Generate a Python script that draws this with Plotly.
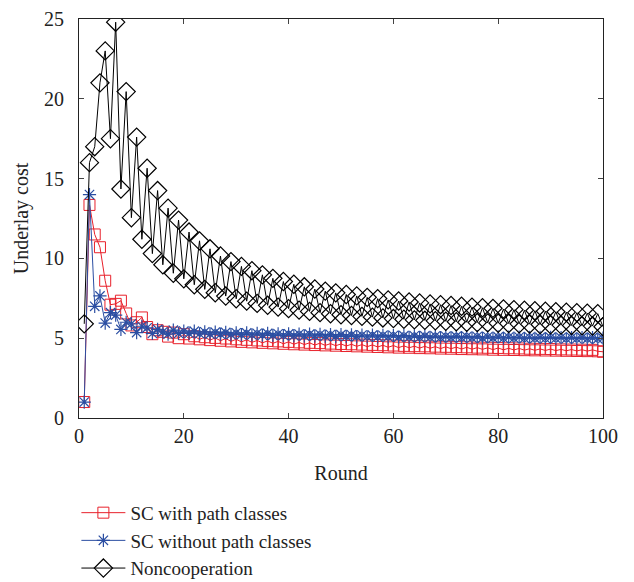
import plotly.graph_objects as go

rounds = list(range(1, 101))

sc_with_path = [
    1.0, 13.35, 11.5, 10.7, 8.6, 7.1, 7.15, 7.35, 6.55, 5.8,
    6.0, 6.3, 5.7, 5.25, 5.5, 5.4, 5.1, 5.35, 5.0, 5.25,
    4.98, 5.12, 4.93, 5.06, 4.88, 5.02, 4.84, 4.98, 4.80, 4.93,
    4.77, 4.90, 4.74, 4.86, 4.71, 4.83, 4.68, 4.80, 4.65, 4.77,
    4.62, 4.74, 4.60, 4.71, 4.57, 4.69, 4.55, 4.66, 4.53, 4.64,
    4.51, 4.62, 4.49, 4.60, 4.47, 4.58, 4.45, 4.56, 4.43, 4.54,
    4.41, 4.52, 4.40, 4.50, 4.38, 4.49, 4.37, 4.47, 4.35, 4.46,
    4.34, 4.44, 4.32, 4.43, 4.31, 4.41, 4.30, 4.40, 4.28, 4.39,
    4.27, 4.37, 4.26, 4.36, 4.25, 4.34, 4.24, 4.33, 4.23, 4.32,
    4.22, 4.30, 4.21, 4.29, 4.20, 4.28, 4.19, 4.27, 4.18, 4.15,
]

sc_without_path = [
    1.0, 14.0, 7.0, 7.65, 5.95, 6.6, 6.45, 5.55, 6.0, 5.9,
    5.35, 5.75, 5.65, 5.3, 5.55, 5.4, 5.25, 5.5, 5.3, 5.45,
    5.30, 5.44, 5.28, 5.40, 5.26, 5.38, 5.25, 5.36, 5.23, 5.34,
    5.22, 5.33, 5.20, 5.31, 5.19, 5.30, 5.18, 5.28, 5.17, 5.27,
    5.16, 5.26, 5.15, 5.25, 5.14, 5.24, 5.13, 5.23, 5.12, 5.22,
    5.11, 5.21, 5.10, 5.20, 5.09, 5.19, 5.08, 5.18, 5.08, 5.17,
    5.07, 5.16, 5.06, 5.15, 5.05, 5.14, 5.05, 5.13, 5.04, 5.12,
    5.03, 5.11, 5.03, 5.10, 5.02, 5.10, 5.01, 5.09, 5.01, 5.08,
    5.00, 5.07, 5.00, 5.07, 4.99, 5.06, 4.99, 5.05, 4.98, 5.05,
    4.98, 5.04, 4.97, 5.04, 4.97, 5.03, 4.96, 5.03, 4.96, 5.00,
]

noncooperation = [
    5.9, 16.0, 17.0, 21.0, 23.0, 17.5, 24.8, 14.35, 20.45, 12.55,
    17.6, 11.2, 15.65, 10.3, 14.25, 9.6, 13.15, 9.07, 12.4, 8.72,
    11.65, 8.35, 11.1, 8.06, 10.6, 7.85, 10.15, 7.64, 9.8, 7.47,
    9.5, 7.32, 9.23, 7.18, 8.97, 7.06, 8.75, 6.95, 8.55, 6.85,
    8.38, 6.76, 8.22, 6.68, 8.08, 6.6, 7.95, 6.53, 7.84, 6.47,
    7.74, 6.42, 7.65, 6.37, 7.56, 6.32, 7.48, 6.27, 7.4, 6.23,
    7.33, 6.19, 7.27, 6.15, 7.21, 6.12, 7.15, 6.09, 7.1, 6.06,
    7.05, 6.03, 7.0, 6.0, 6.95, 5.98, 6.91, 5.96, 6.87, 5.94,
    6.83, 5.92, 6.79, 5.9, 6.75, 5.88, 6.72, 5.86, 6.69, 5.84,
    6.66, 5.82, 6.63, 5.8, 6.6, 5.78, 6.57, 5.76, 6.54, 5.72,
]

x_ticks = [0, 20, 40, 60, 80, 100]
y_ticks = [0, 5, 10, 15, 20, 25]

FONT = "Liberation Serif"

fig = go.Figure()
fig.add_trace(go.Scatter(
    x=rounds, y=sc_with_path, mode="lines+markers", name="SC with path classes",
    line=dict(color="#e8212b", width=1),
    marker=dict(symbol="square-open", size=11, color="#e8212b", line=dict(width=1)),
))
fig.add_trace(go.Scatter(
    x=rounds, y=sc_without_path, mode="lines+markers", name="SC without path classes",
    line=dict(color="#2b4ea2", width=1),
    marker=dict(symbol="asterisk-open", size=11, color="#2b4ea2", line=dict(width=1.2, color="#2b4ea2")),
))
fig.add_trace(go.Scatter(
    x=rounds, y=noncooperation, mode="lines+markers", name="Noncooperation",
    line=dict(color="#000000", width=1),
    marker=dict(symbol="diamond-open", size=14, color="#000000", line=dict(width=1.2)),
))

fig.update_layout(
    width=634, height=582,
    margin=dict(l=71, r=39, t=11, b=172, autoexpand=False),
    paper_bgcolor="white", plot_bgcolor="white",
    font=dict(family=FONT, size=19, color="#222222"),
    showlegend=True,
    legend=dict(
        x=-0.005, y=-0.19, xanchor="left", yanchor="top",
        font=dict(family=FONT, size=19), bgcolor="rgba(0,0,0,0)",
        tracegroupgap=0, itemwidth=44,
    ),
    xaxis=dict(
        range=[0, 100], tickvals=x_ticks, ticks="inside", ticklen=5,
        showline=True, linecolor="#222222", linewidth=1, mirror="ticks",
        showgrid=False, zeroline=False,
        title=dict(text="Round", font=dict(family=FONT, size=20), standoff=19),
        tickfont=dict(family=FONT, size=20),
    ),
    yaxis=dict(
        range=[0, 25], tickvals=y_ticks, ticks="inside", ticklen=5,
        showline=True, linecolor="#222222", linewidth=1, mirror="ticks",
        showgrid=False, zeroline=False, ticklabelstandoff=10,
        title=dict(text="Underlay cost", font=dict(family=FONT, size=20), standoff=10),
        tickfont=dict(family=FONT, size=20),
    ),
)

fig.write_html("out.html")
